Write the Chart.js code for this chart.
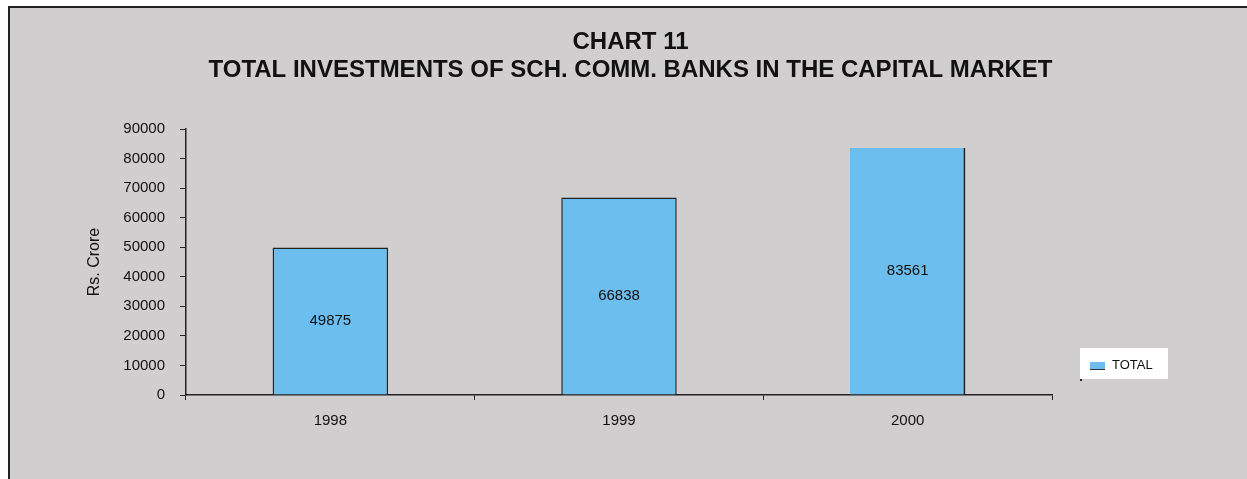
<!DOCTYPE html>
<html>
<head>
<meta charset="utf-8">
<title>Chart 11</title>
<script src="https://cdn.jsdelivr.net/npm/chart.js@4/dist/chart.umd.min.js"></script>
<style>
  html, body { margin: 0; padding: 0; background: #fff; }
  #wrap { width: 1247px; height: 479px; position: relative; }
</style>
</head>
<body>
<div id="wrap"><canvas id="investChart" width="1247" height="479"></canvas></div>
<script>
// Chart data
const years = ['1998', '1999', '2000'];
const totals = [49875, 66838, 83561];
const seriesName = 'TOTAL';
const yTicks = [0, 10000, 20000, 30000, 40000, 50000, 60000, 70000, 80000, 90000];
const titleLines = ['CHART 11', 'TOTAL INVESTMENTS OF SCH. COMM. BANKS IN THE CAPITAL MARKET'];
const yTitle = 'Rs. Crore';

const barFill = '#6cbeee';
const panelGray = '#d0cece';
const FONT = 'Arial, "Liberation Sans", sans-serif';

// Gray panel with a dark frame behind everything
const panelPlugin = {
    id: 'panel',
    beforeDraw(chart) {
        const c = chart.ctx;
        c.save();
        c.fillStyle = '#ffffff';
        c.fillRect(0, 0, chart.width, chart.height);
        c.fillStyle = panelGray;
        c.fillRect(8, 6, chart.width, chart.height);
        c.strokeStyle = '#222';
        c.lineWidth = 2;
        c.beginPath();
        c.moveTo(9, chart.height);
        c.lineTo(9, 7);
        c.lineTo(chart.width, 7);
        c.stroke();
        c.restore();
    }
};

// Value written in the middle of each bar
const barValuePlugin = {
    id: 'barValues',
    afterDatasetsDraw(chart) {
        const c = chart.ctx;
        const meta = chart.getDatasetMeta(0);
        c.save();
        c.font = '15px ' + FONT;
        c.fillStyle = '#111';
        c.textAlign = 'center';
        c.textBaseline = 'middle';
        meta.data.forEach((bar, i) => {
            const mid = (bar.y + bar.base) / 2;
            c.fillText(String(chart.data.datasets[0].data[i]), bar.x, mid);
        });
        c.restore();
    }
};

// Small boxed legend sitting right of the plot
const sideLegendPlugin = {
    id: 'sideLegend',
    afterDraw(chart) {
        const c = chart.ctx;
        const ds = chart.data.datasets[0];
        const x = chart.chartArea.right + 28;
        const y = chart.chartArea.bottom - 47;
        c.save();
        c.fillStyle = '#ffffff';
        c.fillRect(x, y, 88, 31);
        c.fillStyle = '#222';
        c.fillRect(x, y + 31, 2, 2);
        c.fillStyle = ds.backgroundColor;
        c.fillRect(x + 10, y + 14, 15, 7);
        c.strokeStyle = '#333';
        c.lineWidth = 1;
        c.beginPath();
        c.moveTo(x + 10, y + 21.5);
        c.lineTo(x + 25, y + 21.5);
        c.stroke();
        c.font = '13px ' + FONT;
        c.fillStyle = '#111';
        c.textAlign = 'left';
        c.textBaseline = 'middle';
        c.fillText(ds.label, x + 32, y + 17);
        c.restore();
    }
};

const ctx = document.getElementById('investChart').getContext('2d');
const chart = new Chart(ctx, {
    type: 'bar',
    data: {
        labels: years,
        datasets: [{
            label: seriesName,
            data: totals,
            backgroundColor: barFill,
            borderColor: '#222',
            borderWidth: [
                { top: 1.5, right: 1.5, bottom: 0, left: 1.5 },
                { top: 1.5, right: 1.5, bottom: 0, left: 1.5 },
                { top: 0, right: 2, bottom: 0, left: 0 }
            ],
            borderSkipped: false,
            barPercentage: 0.8,
            categoryPercentage: 0.5
        }]
    },
    options: {
        responsive: false,
        animation: false,
        events: [],
        layout: { padding: { left: 14, right: 0, top: 0, bottom: 0 } },
        plugins: {
            legend: { display: false },
            tooltip: { enabled: false },
            title: {
                display: true,
                text: titleLines,
                color: '#111',
                font: { family: FONT, size: 24, weight: 'bold', lineHeight: 1.167 },
                padding: { top: 28, bottom: 45 }
            }
        },
        scales: {
            x: {
                grid: {
                    display: true,
                    drawOnChartArea: false,
                    offset: true,
                    tickLength: 5,
                    color: '#222'
                },
                border: { display: true, color: '#222', width: 1.5 },
                ticks: {
                    color: '#111',
                    padding: 12,
                    font: { family: FONT, size: 15 }
                },
                afterFit(scale) { scale.height = 84; }
            },
            y: {
                min: 0,
                max: 90000,
                afterBuildTicks(scale) {
                    scale.ticks = yTicks.map(v => ({ value: v }));
                },
                grid: {
                    display: true,
                    drawOnChartArea: false,
                    tickLength: 6,
                    color: '#222'
                },
                border: { display: true, color: '#222', width: 1.5 },
                ticks: {
                    color: '#111',
                    padding: 15,
                    font: { family: FONT, size: 15 },
                    callback: v => String(v)
                },
                title: {
                    display: true,
                    text: yTitle,
                    color: '#111',
                    font: { family: FONT, size: 16 },
                    padding: { top: 71, bottom: 0 }
                },
                afterFit(scale) { scale.width = 172; }
            },
            // empty right-hand axis that reserves room for the legend
            yRight: {
                type: 'linear',
                position: 'right',
                display: true,
                grid: { display: false },
                border: { display: false },
                ticks: { display: false },
                afterFit(scale) { scale.width = 195; }
            }
        }
    },
    plugins: [panelPlugin, barValuePlugin, sideLegendPlugin]
});
</script>
</body>
</html>
